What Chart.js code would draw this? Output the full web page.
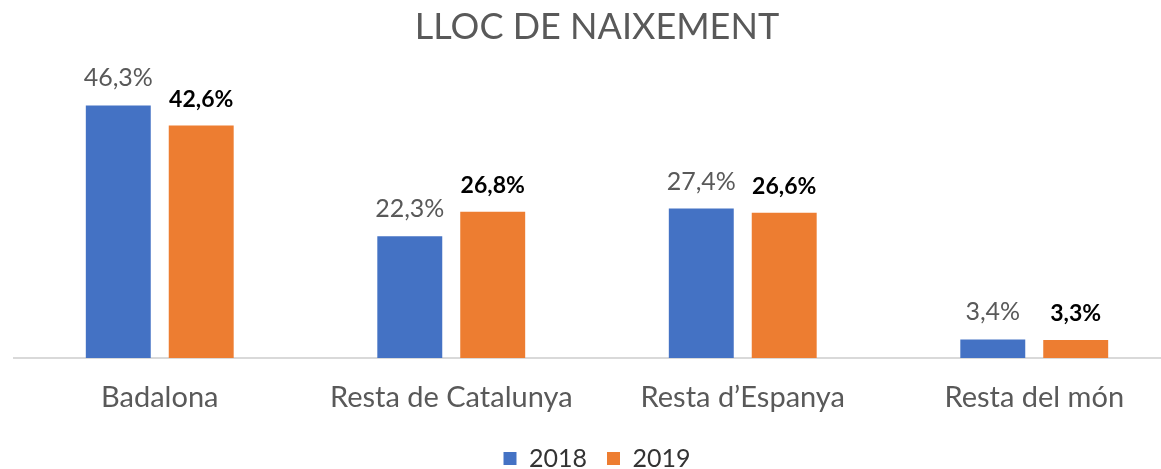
<!DOCTYPE html>
<html>
<head>
<meta charset="utf-8">
<script src="https://cdn.jsdelivr.net/npm/chart.js@4/dist/chart.umd.min.js"></script>
<style>
  html, body { margin: 0; padding: 0; background: #fff; overflow: hidden; }
  #wrap { position: relative; width: 1190px; height: 469px; }
</style>
</head>
<body>
<div id="wrap"><canvas id="chart"></canvas></div>
<script>
const categories = ['Badalona', 'Resta de Catalunya', 'Resta d\u2019Espanya', 'Resta del m\u00f3n'];
const values2018 = [46.3, 22.3, 27.4, 3.4];
const values2019 = [42.6, 26.8, 26.6, 3.3];

const FONT = 'Lato, "Open Sans", sans-serif';

// etiquetes de valor damunt de cada barra
const valueLabels = {
  id: 'valueLabels',
  afterDatasetsDraw(chart) {
    const ctx = chart.ctx;
    chart.data.datasets.forEach(function (ds, i) {
      const meta = chart.getDatasetMeta(i);
      ctx.save();
      ctx.font = i === 1 ? 'bold 23px ' + FONT : '25px ' + FONT;
      ctx.fillStyle = i === 1 ? '#000000' : '#595959';
      ctx.textAlign = 'center';
      ctx.textBaseline = 'alphabetic';
      meta.data.forEach(function (bar, j) {
        const txt = ds.data[j].toFixed(1).replace('.', ',') + '%';
        ctx.fillText(txt, bar.x, bar.y - 19);
      });
      ctx.restore();
    });
  }
};

const ctx = document.getElementById('chart');

const chart = new Chart(ctx, {
  type: 'bar',
  data: {
    labels: categories,
    datasets: [{
      label: '2018',
      data: values2018,
      backgroundColor: '#4472C4',
      barPercentage: 0.783,
      categoryPercentage: 0.569
    }, {
      label: '2019',
      data: values2019,
      backgroundColor: '#ED7D31',
      barPercentage: 0.783,
      categoryPercentage: 0.569
    }]
  },
  options: {
    responsive: true,
    maintainAspectRatio: false,
    animation: false,
    layout: { padding: { left: 14, right: 10, top: 0, bottom: -12 } },
    plugins: {
      title: {
        display: true,
        text: 'LLOC DE NAIXEMENT',
        color: '#595959',
        font: { family: FONT, size: 36, weight: 'normal' },
        padding: { top: 6, bottom: 36 }
      },
      legend: {
        position: 'bottom',
        labels: {
          color: '#333333',
          font: { family: FONT, size: 25 },
          boxWidth: 13,
          boxHeight: 13,
          padding: 20
        }
      },
      tooltip: { enabled: false }
    },
    scales: {
      x: {
        grid: { display: false, drawTicks: false },
        border: { display: true, color: '#d9d9d9', width: 2 },
        ticks: {
          color: '#595959',
          font: { family: FONT, size: 29 },
          padding: 22,
          maxRotation: 0
        },
        afterFit: function (scale) { scale.height = 68; }
      },
      y: {
        display: false,
        min: 0,
        max: 50
      }
    }
  },
  plugins: [valueLabels]
});
</script>
</body>
</html>
